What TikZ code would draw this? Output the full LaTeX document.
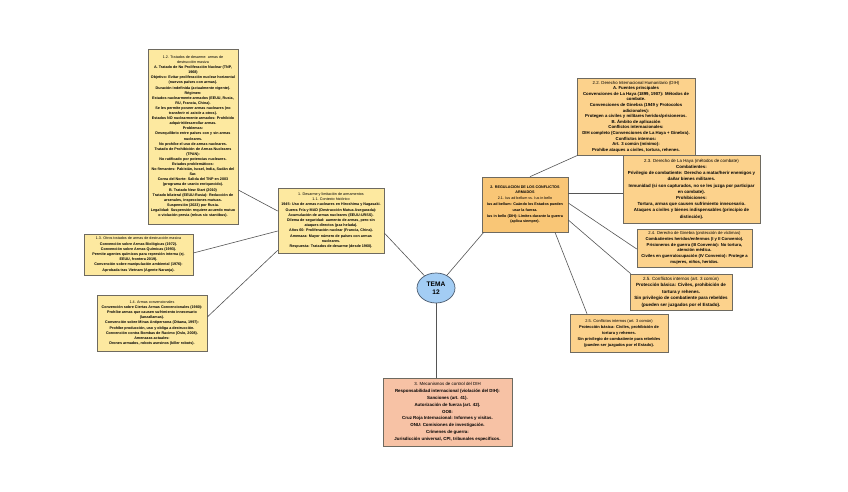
\documentclass[tikz,border=0pt]{standalone}
\usepackage{fontspec}
\setmainfont{Liberation Sans}
\usetikzlibrary{shapes.geometric}
\definecolor{yelfill}{HTML}{FDE9A0}
\definecolor{orafill}{HTML}{FCD28C}
\definecolor{regfill}{HTML}{F9C676}
\definecolor{salfill}{HTML}{F7C2A5}
\definecolor{temafill}{HTML}{A3CDF4}
\definecolor{temadraw}{HTML}{4A5A6E}
\definecolor{boxdraw}{HTML}{6E6A60}
\definecolor{conncol}{HTML}{555555}
\newcommand\headtxt[1]{{\mdseries #1}}
\tikzset{
  box/.style={draw=boxdraw, line width=0.6pt, align=center, inner sep=1.5pt},
  ybox/.style={box, fill=yelfill, font=\fontsize{3.7}{5.1}\selectfont\bfseries},
  obox/.style={box, fill=orafill},
  conn/.style={draw=conncol, line width=0.6pt},
}
\begin{document}
\begin{tikzpicture}[x=1pt,y=-1pt]
\useasboundingbox[fill=white] (0,0) rectangle (848,492);

% ---- left side ----
\node[ybox, minimum width=90, minimum height=175] (b12) at (193,136.5) {%
\headtxt{1.2. Tratados de desarme: armas de}\\
\headtxt{destrucción masiva}\\
A. Tratado de No Proliferación Nuclear (TNP,\\
1968)\\
Objetivo: Evitar proliferación nuclear horizontal\\
(nuevos países con armas).\\
Duración indefinida (actualmente vigente).\\
Régimen:\\
Estados nuclearmente armados (EEUU, Rusia,\\
RU, Francia, China).\\
Se les permite poseer armas nucleares (no\\
transferir ni asistir a otros).\\
Estados NO nuclearmente armados: Prohibido\\
adquirir/desarrollar armas.\\
Problemas:\\
Desequilibrio entre países con y sin armas\\
nucleares.\\
No prohíbe el uso de armas nucleares.\\
Tratado de Prohibición de Armas Nucleares\\
(TPAN):\\
No ratificado por potencias nucleares.\\
Estados problemáticos:\\
No firmantes: Pakistán, Israel, India, Sudán del\\
Sur.\\
Corea del Norte: Salida del TNP en 2003\\
(programa de uranio enriquecido).\\
B. Tratado New Start (2010)\\
Tratado bilateral (EEUU-Rusia): Reducción de\\
arsenales, inspecciones mutuas.\\
Suspensión (2023) por Rusia.\\
Legalidad: Suspensión requiere acuerdo mutuo\\
o violación previa (rebus sic stantibus).};

\node[ybox, minimum width=109, minimum height=41, font=\fontsize{3.7}{5.2}\selectfont\bfseries] (b13) at (138.5,254.5) {%
\headtxt{1.3. Otros tratados de armas de destrucción masiva}\\
Convención sobre Armas Biológicas (1972).\\
Convención sobre Armas Químicas (1993).\\
Permite agentes químicos para represión interna (ej.\\
EEUU, frontera 2019).\\
Convención sobre manipulación ambiental (1976):\\
Aprobada tras Vietnam (Agente Naranja).};

\node[ybox, minimum width=110, minimum height=56] (b14) at (152,323) {%
\headtxt{1.4. Armas convencionales}\\
Convención sobre Ciertas Armas Convencionales (1980):\\
Prohíbe armas que causen sufrimiento innecesario\\
(lanzallamas).\\
Convención sobre Minas Antipersona (Ottawa, 1997):\\
Prohíbe producción, uso y obliga a destrucción.\\
Convención contra Bombas de Racimo (Oslo, 2008).\\
Amenazas actuales:\\
Drones armados, robots asesinos (killer robots).};

\node[ybox, minimum width=106, minimum height=65, font=\fontsize{3.7}{5.2}\selectfont\bfseries] (b1) at (331,220.5) {%
\headtxt{1. Desarme y limitación de armamentos}\\
\headtxt{1.1. Contexto histórico}\\
1945: Uso de armas nucleares en Hiroshima y Nagasaki.\\
Guerra Fría y MAD (Destrucción Mutua Asegurada):\\
Acumulación de armas nucleares (EEUU-URSS).\\
Dilema de seguridad: aumento de armas, pero sin\\
ataques directos (paz helada).\\
Años 60: Proliferación nuclear (Francia, China).\\
Amenaza: Mayor número de países con armas\\
nucleares.\\
Respuesta: Tratados de desarme (desde 1960).};

% ---- centre ----
\node[ellipse, draw=temadraw, line width=0.7pt, fill=temafill, minimum width=38, minimum height=30, inner sep=0pt, align=center, font=\fontsize{6.6}{8.2}\selectfont\bfseries] (tema) at (436,288) {TEMA\\12};

\node[box, fill=regfill, minimum width=86, minimum height=55, font=\fontsize{3.7}{5.8}\selectfont\bfseries] (b2) at (525,204.5) {%
2. REGULACION DE LOS CONFLICTOS\\
ARMADOS\\
\headtxt{2.1. Ius ad bellum vs. Ius in bello}\\
Ius ad bellum: Cuándo los Estados pueden\\
usar la fuerza.\\
Ius in bello (DIH): Límites durante la guerra\\
(aplica siempre).};

\node[box, fill=salfill, minimum width=129, minimum height=68, font=\fontsize{4.4}{6.8}\selectfont\bfseries] (b3) at (447.5,412) {%
\headtxt{3. Mecanismos de control del DIH}\\
Responsabilidad internacional (violación del DIH):\\
Sanciones (art. 41).\\
Autorización de fuerza (art. 42).\\
OOII:\\
Cruz Roja Internacional: Informes y visitas.\\
ONU: Comisiones de investigación.\\
Crímenes de guerra:\\
Jurisdicción universal, CPI, tribunales específicos.};

% ---- right side ----
\node[obox, minimum width=118, minimum height=77, font=\fontsize{4.3}{5.6}\selectfont\bfseries] (b22) at (636,116.5) {%
\headtxt{2.2. Derecho Internacional Humanitario (DIH)}\\
A. Fuentes principales\\
Convenciones de La Haya (1899, 1907): Métodos de\\
combate.\\
Convenciones de Ginebra (1949 y Protocolos\\
adicionales):\\
Protegen a civiles y militares heridos/prisioneros.\\
B. Ámbito de aplicación\\
Conflictos internacionales:\\
DIH completo (Convenciones de La Haya + Ginebra).\\
Conflictos internos:\\
Art. 3 común (mínimo):\\
Prohíbe ataques a civiles, tortura, rehenes.};

\node[obox, minimum width=137, minimum height=68, font=\fontsize{4.4}{6.2}\selectfont\bfseries] (b23) at (691.5,189) {%
\headtxt{2.3. Derecho de La Haya (métodos de combate)}\\
Combatientes:\\
Privilegio de combatiente: Derecho a matar/herir enemigos y\\
dañar bienes militares.\\
Inmunidad (si son capturados, no se les juzga por participar\\
en combate).\\
Prohibiciones:\\
Tortura, armas que causen sufrimiento innecesario.\\
Ataques a civiles y bienes indispensables (principio de\\
distinción).};

\node[obox, minimum width=115, minimum height=38, font=\fontsize{4.2}{5.7}\selectfont\bfseries] (b24) at (694.5,248) {%
\headtxt{2.4. Derecho de Ginebra (protección de víctimas)}\\
Combatientes heridos/enfermos (I y II Convenio).\\
Prisioneros de guerra (III Convenio): No tortura,\\
atención médica.\\
Civiles en guerra/ocupación (IV Convenio): Protege a\\
mujeres, niños, heridos.};

\node[obox, minimum width=102, minimum height=36, font=\fontsize{4.5}{6.5}\selectfont\bfseries] (b25) at (681,292) {%
\headtxt{2.5. Conflictos internos (art. 3 común)}\\
Protección básica: Civiles, prohibición de\\
tortura y rehenes.\\
Sin privilegio de combatiente para rebeldes\\
(pueden ser juzgados por el Estado).};

\node[obox, minimum width=98, minimum height=38, font=\fontsize{4.0}{6.0}\selectfont\bfseries] (b26) at (619,333) {%
\headtxt{2.5. Conflictos internos (art. 3 común)}\\
Protección básica: Civiles, prohibición de\\
tortura y rehenes.\\
Sin privilegio de combatiente para rebeldes\\
(pueden ser juzgados por el Estado).};

% ---- connectors ----
\draw[conn] ([yshift=-53.5pt]b12.east) -- ([yshift=9.5pt]b1.west);
\draw[conn] ([yshift=1.5pt]b13.east) -- ([yshift=-10.5pt]b1.west);
\draw[conn] ([yshift=6pt]b14.east) -- ([yshift=3pt]b1.south west);
\draw[conn] ([yshift=-12.5pt]b1.east) -- (tema);
\draw[conn] (tema) -- ([xshift=2pt]b2.south west);
\draw[conn] (tema) -- (tema.south |- b3.north);
\draw[conn] ([xshift=5pt]b2.north) -- ([xshift=1pt]b22.south west);
\draw[conn] ([yshift=11.5pt]b2.east) -- ([yshift=-4pt]b23.west);
\draw[conn] ([yshift=1.5pt]b2.east) -- ([yshift=-1pt]b24.west);
\draw[conn] ([yshift=-15.5pt]b2.east) -- ([xshift=1pt]b25.north west);
\draw[conn] ([xshift=30pt]b2.south) -- ([xshift=-32pt]b26.north);
\end{tikzpicture}
\end{document}
